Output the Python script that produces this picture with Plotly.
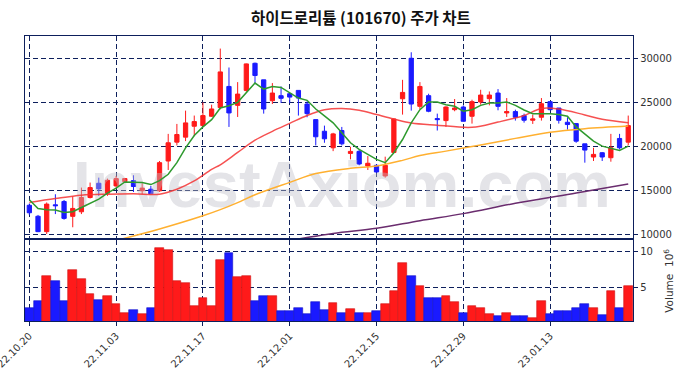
import plotly.graph_objects as go

# ---------------- data ----------------
dates = ["22.10.20", "22.10.21", "22.10.24", "22.10.25", "22.10.26", "22.10.27", "22.10.28", "22.10.31",
         "22.11.01", "22.11.02", "22.11.03", "22.11.04", "22.11.07", "22.11.08", "22.11.09", "22.11.10",
         "22.11.11", "22.11.14", "22.11.15", "22.11.16", "22.11.17", "22.11.18", "22.11.21", "22.11.22",
         "22.11.23", "22.11.24", "22.11.25", "22.11.28", "22.11.29", "22.11.30",
         "22.12.01", "22.12.02", "22.12.05", "22.12.06", "22.12.07", "22.12.08", "22.12.09", "22.12.12",
         "22.12.13", "22.12.14", "22.12.15", "22.12.16", "22.12.19", "22.12.20", "22.12.21", "22.12.22",
         "22.12.23", "22.12.26", "22.12.27", "22.12.28", "22.12.29",
         "23.01.02", "23.01.03", "23.01.04", "23.01.05", "23.01.06", "23.01.09", "23.01.10", "23.01.11",
         "23.01.12", "23.01.13", "23.01.16", "23.01.17", "23.01.18", "23.01.19", "23.01.20", "23.01.25",
         "23.01.26", "23.01.27", "23.01.30"]

opens = [13300, 12050, 10300, 13350, 13730, 12040, 12560, 14180, 15800, 14670,
         15500, 15990, 16100, 14950, 15120, 14940, 18330, 20470, 21040, 22280,
         22350, 23410, 24400, 26800, 24650, 26350, 29430, 27550, 25180, 25750,
         25970, 26350, 24800, 23030, 21710, 19830, 21790, 19190, 19420, 17760,
         17840, 16630, 19300, 25400, 30000, 24540, 25750, 23150, 22920, 24160,
         24460, 23410, 25030, 25410, 26050, 23790, 23940, 23490, 22960, 23300,
         25070, 24350, 22730, 22580, 20280, 18780, 19270, 18700, 20890, 20470]
highs = [13500, 12200, 13620, 14550, 13900, 14300, 15310, 15880, 16440, 16330,
         16630, 16400, 16710, 15800, 15500, 18330, 21410, 22540, 24050, 23490,
         24990, 24730, 31100, 28950, 27290, 29400, 29510, 27550, 27180, 26800,
         25970, 26350, 25100, 23030, 22350, 21530, 22200, 19950, 19640, 18890,
         17950, 18820, 23150, 27550, 30680, 27290, 25970, 23710, 24540, 25370,
         24650, 25290, 26420, 26230, 26500, 25480, 24160, 23710, 23600, 25480,
         25070, 24350, 23300, 22580, 20280, 19830, 19350, 21410, 21410, 23490]
lows = [12200, 10250, 10040, 12300, 11660, 10800, 12300, 14070, 14370, 14370,
        15310, 15880, 14810, 14560, 14560, 14810, 17310, 20100, 20590, 21150,
        22200, 23340, 24200, 22200, 23330, 26200, 27060, 23710, 24800, 24920,
        24920, 23490, 23300, 20100, 20400, 19450, 20100, 18520, 17840, 17310,
        17000, 16440, 19270, 23600, 24050, 24240, 23870, 21790, 22200, 23980,
        22840, 22580, 24730, 24650, 24090, 23330, 22920, 22690, 22540, 22920,
        24090, 22580, 21900, 20400, 18140, 18330, 18330, 18250, 19640, 20100]
closes = [12450, 10300, 13430, 13250, 11810, 12940, 14180, 15310, 15160, 16140,
          16330, 16330, 15430, 15250, 14600, 18140, 20400, 21340, 22660, 22810,
          23490, 24240, 28450, 23790, 25930, 29360, 28040, 24240, 26050, 25450,
          25590, 25480, 23710, 21080, 20850, 21410, 20280, 19420, 17990, 18070,
          17080, 17840, 23100, 26120, 24800, 26800, 23980, 23030, 24460, 24350,
          22840, 25070, 25820, 25820, 24540, 23940, 23300, 22960, 23110, 24840,
          24160, 22960, 22470, 20580, 19570, 19080, 18780, 19830, 19830, 22350]
volumes = [2.0, 3.1, 6.65, 5.9, 3.0, 7.4, 6.2, 4.1, 3.25, 3.7,
           2.55, 1.4, 1.7, 1.2, 2.0, 10.6, 10.3, 5.85, 5.66, 2.4,
           3.4, 2.26, 8.9, 9.86, 6.4, 6.65, 3.1, 3.7, 3.7, 1.56,
           1.56, 2.1, 1.13, 2.83, 1.7, 2.7, 1.27, 1.84, 1.27, 1.4,
           1.56, 2.55, 4.4, 8.5, 6.65, 5.1, 3.4, 3.4, 3.8, 2.83,
           1.27, 2.26, 2.0, 1.13, 0.85, 1.27, 0.85, 0.85, 0.57, 3.1,
           1.13, 1.56, 1.56, 2.0, 2.55, 2.1, 1.0, 4.4, 2.0, 5.1]  # x 10^6

ma5 = [13920, 12940, 12790, 12750, 12490, 12560, 13050, 13540, 14000, 14670,
       15240, 15950, 15950, 15880, 15650, 16100, 16820, 18140, 19830, 21230,
       22200, 23030, 24350, 24610, 24990, 26050, 27180, 26500, 26800, 26690,
       26050, 25480, 25220, 24240, 23450, 22660, 21530, 20400, 19640, 19080,
       18510, 18140, 19270, 20770, 22660, 24160, 25030, 25030, 24730, 24540,
       23980, 24160, 24650, 24920, 24920, 25030, 24650, 24120, 23710, 23710,
       23710, 23600, 23410, 22200, 21340, 20580, 20020, 19790, 19530, 20020]
ma20_day = [0, 3, 6, 9, 12, 15, 17, 19, 21, 22, 24, 26, 28, 30, 32, 34, 36, 38, 40,
            42, 44, 47, 51, 54, 57, 59, 61, 64, 66, 69]
ma20_val = [13620, 14070, 14450, 14560, 14600, 14560, 15120, 16060, 17380, 17900,
            19300, 20700, 21700, 22600, 23500, 24150, 24300, 24100, 23600,
            23100, 22650, 22400, 22150, 22750, 23500, 24300, 24240, 23560, 23070, 22680]
ma60_day = [10, 15, 20, 22, 24, 26, 30, 33, 37, 40, 43, 45, 48, 52, 56, 60, 64, 69]
ma60_val = [9300, 10600, 12100, 12800, 13600, 14500, 15900, 16900, 17500, 17750,
            18400, 18950, 19450, 20150, 20900, 21600, 22000, 22300]
ma120_day = [30, 35, 40, 45, 50, 56, 63, 69]
ma120_val = [9300, 10100, 10680, 11550, 12350, 13520, 14700, 15720]

tick_labels = ["22.10.20", "22.11.03", "22.11.17", "22.12.01", "22.12.15", "22.12.29", "23.01.13"]
price_ticks = [10000, 15000, 20000, 25000, 30000]
vol_ticks = [5, 10]

title_text = "하이드로리튬 (101670) 주가 차트"
watermark = "InvestAxiom.com"

# ---------------- figure ----------------
UP = "#ff1a1a"
DOWN = "#1a1aff"
NAVY = "#0d1f5c"

idx = list(range(len(dates)))
tickvals = [dates.index(t) for t in tick_labels]
vol_colors = [UP if c >= o else DOWN for o, c in zip(opens, closes)]
vol_edge = ["#d01010" if c >= o else "#1010c8" for o, c in zip(opens, closes)]

fig = go.Figure()

fig.add_trace(go.Scatter(
    x=[36.0], y=[14950], mode="text", text=[watermark],
    textfont=dict(family="Liberation Sans, Arial", size=65, color="rgba(190,190,200,0.42)"),
    texttemplate="<b>%{text}</b>",
    hoverinfo="skip", showlegend=False, xaxis="x", yaxis="y"))

fig.add_trace(go.Scatter(x=ma120_day, y=ma120_val, mode="lines", line=dict(color="#6a2c6e", width=1.5, shape="spline"),
                         hoverinfo="skip", showlegend=False, xaxis="x", yaxis="y"))
fig.add_trace(go.Scatter(x=ma60_day, y=ma60_val, mode="lines", line=dict(color="#ffb030", width=1.5, shape="spline"),
                         hoverinfo="skip", showlegend=False, xaxis="x", yaxis="y"))
fig.add_trace(go.Scatter(x=ma20_day, y=ma20_val, mode="lines", line=dict(color="rgba(245,50,50,0.85)", width=1.5, shape="spline"),
                         hoverinfo="skip", showlegend=False, xaxis="x", yaxis="y"))
fig.add_trace(go.Scatter(x=idx, y=ma5, mode="lines", line=dict(color="#2e9a2e", width=1.5),
                         hoverinfo="skip", showlegend=False, xaxis="x", yaxis="y"))

fig.add_trace(go.Candlestick(
    x=idx, open=opens, high=highs, low=lows, close=closes,
    increasing=dict(line=dict(color=UP, width=1), fillcolor=UP),
    decreasing=dict(line=dict(color=DOWN, width=1), fillcolor=DOWN),
    whiskerwidth=0, showlegend=False, xaxis="x", yaxis="y"))

fig.add_trace(go.Bar(
    x=idx, y=volumes, width=1.0,
    marker=dict(color=vol_colors, line=dict(color=vol_edge, width=0.6)),
    showlegend=False, xaxis="x2", yaxis="y2"))

xr = [-0.5, 69.55]
grid = dict(showgrid=True, gridcolor=NAVY, gridwidth=1, griddash="5px,3px", automargin=False,
            showline=True, linecolor=NAVY, linewidth=1.3, mirror=True, zeroline=False)
tickfont = dict(family="DejaVu Sans", size=10, color="#333333")

fig.update_layout(
    width=686, height=378,
    margin=dict(l=25, r=53, t=36, b=57, autoexpand=False),
    paper_bgcolor="white", plot_bgcolor="white",
    boxgap=0.3,
    title=dict(text="<b>" + title_text + "</b>", x=0.526, xanchor="center", y=0.952, yanchor="middle",
               yref="container", font=dict(family="Noto Sans CJK KR", size=15.5, color="#111111")),
    xaxis=dict(domain=[0, 1], anchor="y", range=xr, tickvals=tickvals, showticklabels=False,
               ticks="", rangeslider=dict(visible=False), **grid),
    yaxis=dict(domain=[0.2912, 1], anchor="x", side="right", range=[9580, 32530], tickvals=price_ticks,
               ticktext=[str(v) for v in price_ticks],
               ticks="outside", ticklen=4, tickcolor=NAVY, tickfont=tickfont, **grid),
    xaxis2=dict(domain=[0, 1], anchor="y2", range=xr, tickvals=tickvals, ticktext=tick_labels,
                tickangle=-45, ticks="outside", ticklen=4, tickcolor=NAVY, tickfont=tickfont,
                ticklabeloverflow="allow", **grid),
    yaxis2=dict(domain=[0, 0.2842], anchor="x2", side="right", range=[0.2, 11.7], tickvals=vol_ticks,
                ticktext=[str(v) for v in vol_ticks],
                ticks="outside", ticklen=4, tickcolor=NAVY, tickfont=tickfont, **grid),
    bargap=0,
    annotations=[dict(text="Volume  10<sup>6</sup>", textangle=-90, xref="paper", yref="paper",
                      x=1.057, y=0.14, xanchor="center", yanchor="middle", showarrow=False,
                      font=dict(family="DejaVu Sans", size=10.5, color="#333333"))],
)

fig.write_html("out.html", config={"displayModeBar": False},
               post_script="document.body.style.margin='0px';")
